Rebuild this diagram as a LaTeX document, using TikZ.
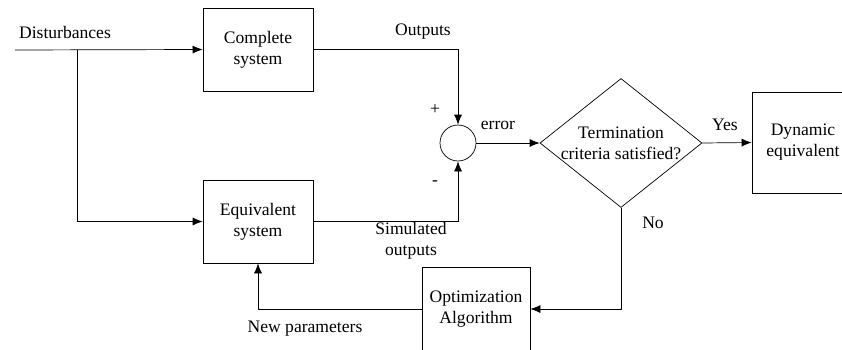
\documentclass[tikz,border=0pt]{standalone}
\usepackage{fontspec}
\setmainfont{Liberation Serif}
\usetikzlibrary{shapes.geometric,arrows.meta}
\begin{document}
\begin{tikzpicture}[scale=1,font=\rmfamily,
        block/.style={draw,minimum width=2.2cm,minimum height=1.66cm,align=center},
        sumnode/.style={draw,circle,minimum size=0.72cm,inner sep=0},
        decide/.style={draw,diamond,minimum width=3.24cm,minimum height=2.58cm,inner sep=0},
        line/.style={draw,thin},
        arr/.style={line,-{Latex[length=2mm,width=1.6mm]}}]
        \useasboundingbox (0,0) rectangle (16.84,6.98);
        \node[block] (complete) at (5.16,5.99) {Complete\\system};
        \node[block] (equiv) at (5.16,2.55) {Equivalent\\system};
        \node[sumnode] (sum) at (9.16,4.12) {};
        \node[decide] (check) at (12.42,4.12) {};
        \node[align=center] at (check.center) {Termination\\criteria satisfied?};
        \node[block,minimum width=2.04cm,minimum height=2.02cm] (dynamic) at (16.06,4.13) {Dynamic\\equivalent};
        \node[block,minimum width=2.16cm,minimum height=1.68cm] (optim) at (9.52,0.80) {Optimization\\Algorithm};
        \coordinate (input) at (0.30,5.98);
        \coordinate (branch) at (1.54,5.98);
        \draw[arr] (input) -- (complete.west);
        \draw[arr] (branch) |- (equiv.west);
        \draw[arr] (complete.east) -| (sum.north);
        \draw[arr] (equiv.east) -| (sum.south);
        \draw[arr] (sum.east) -- (check.west);
        \draw[arr] (check.east) -- (dynamic.west);
        \draw[arr] (check.south) |- (optim.east);
        \draw[arr] (optim.west) -| (equiv.south);
        \node at (1.30,6.34) {Disturbances};
        \node at (8.46,6.34) {Outputs};
        \node at (8.70,4.78) {+};
        \node at (8.70,3.32) {-};
        \node at (9.96,4.48) {error};
        \node[align=center] at (8.22,2.16) {Simulated\\outputs};
        \node at (14.50,4.48) {Yes};
        \node at (13.06,2.52) {No};
        \node at (6.10,0.40) {New parameters};
    \end{tikzpicture}
\end{document}
